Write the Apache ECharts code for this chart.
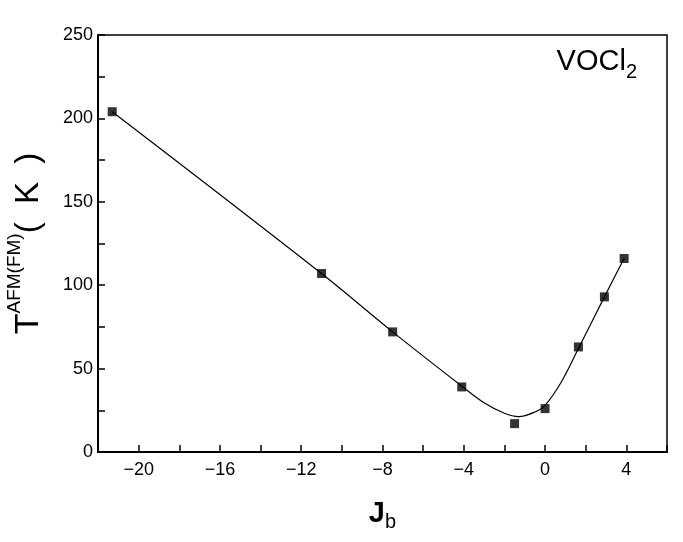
<!DOCTYPE html>
<html>
<head>
<meta charset="utf-8">
<script src="https://cdn.jsdelivr.net/npm/echarts@6/dist/echarts.min.js"></script>
<style>
  html, body { margin: 0; padding: 0; background: #fff; }
  #myChart { width: 683px; height: 542px; }
</style>
</head>
<body>
<div id="myChart"></div>
<script>
// measured points
var jbValues = [-21.3, -11.0, -7.5, -4.1, -1.5, 0.0, 1.64, 2.92, 3.89]
var tValues = [204, 107, 72, 39, 17, 26, 63, 93, 116]

// fitted curve
var curveX = [-21.3, -11.0, -7.5, -4.1, -3.0, -2.0, -1.3, -0.5, 0.0, 0.8, 1.64, 2.92, 3.89]
var curveY = [204, 107, 72, 39.5, 29.5, 23.2, 21.2, 24, 28, 42, 62, 93, 116]

var xTicks = [-20, -16, -12, -8, -4, 0, 4]
var yTicks = [0, 50, 100, 150, 200, 250]

var myChart = echarts.init(document.getElementById('myChart'))

var font = 'Liberation Sans, Arial, sans-serif'
var pts = jbValues.map(function (x, i) { return [x, tValues[i]] })
var curve = curveX.map(function (x, i) { return [x, curveY[i]] })

var option = {
  animation: false,
  backgroundColor: '#fff',
  grid: {
    left: 98, right: 16, top: 35, bottom: 90,
    outerBoundsMode: 'none',
    show: true, borderColor: '#000', borderWidth: 1.5
  },
  xAxis: {
    type: 'value',
    min: -22, max: 6, interval: 2,
    axisLine: { onZero: false, lineStyle: { color: '#000', width: 2 } },
    axisTick: { inside: true, length: 7, lineStyle: { color: '#000', width: 1.5 } },
    splitLine: { show: false },
    axisLabel: {
      color: '#000', fontSize: 18, fontFamily: font, margin: 9,
      formatter: function (v) {
        if (xTicks.indexOf(v) < 0) return ''
        return v < 0 ? '\u2212' + Math.abs(v) : String(v)
      }
    },
    name: '{j|J}{b|b}',
    nameLocation: 'middle',
    nameGap: 44,
    nameTextStyle: {
      rich: {
        j: { fontSize: 29, fontFamily: font, color: '#000', fontWeight: 'bold' },
        b: { fontSize: 20, fontFamily: font, color: '#000', padding: [16, 0, 0, 0] }
      }
    }
  },
  yAxis: {
    type: 'value',
    min: 0, max: 250, interval: 25,
    axisLine: { show: true, onZero: false, lineStyle: { color: '#000', width: 2 } },
    axisTick: { inside: true, length: 7, lineStyle: { color: '#000', width: 1.5 } },
    splitLine: { show: false },
    axisLabel: {
      color: '#000', fontSize: 18, fontFamily: font, margin: 5,
      formatter: function (v) {
        return yTicks.indexOf(v) < 0 ? '' : String(v)
      }
    },
    name: '{t|T}{s|AFM(FM)}{k|(  K  )}',
    nameLocation: 'middle',
    nameRotate: 90,
    nameGap: 52,
    nameTextStyle: {
      rich: {
        t: { fontSize: 34, fontFamily: font, color: '#000', padding: [12, 0, 0, 0] },
        s: { fontSize: 19, fontFamily: font, color: '#000', padding: [0, 0, 16, 0] },
        k: { fontSize: 33, fontFamily: font, color: '#000', padding: [12, 0, 0, 0] }
      }
    }
  },
  graphic: [{
    type: 'text',
    right: 46, top: 47,
    style: {
      text: '{a|VOCl}{b|2}',
      rich: {
        a: { fontSize: 29, fontFamily: font, fill: '#000' },
        b: { fontSize: 20, fontFamily: font, fill: '#000', padding: [22, 0, 0, 0] }
      }
    }
  }],
  series: [{
    type: 'line',
    data: curve,
    smooth: 0.35,
    showSymbol: false,
    lineStyle: { color: '#000', width: 1.2 },
    z: 2
  }, {
    type: 'scatter',
    data: pts,
    symbol: 'rect',
    symbolSize: 9,
    itemStyle: { color: '#000' },
    z: 3
  }]
}
myChart.setOption(option)
</script>
</body>
</html>
